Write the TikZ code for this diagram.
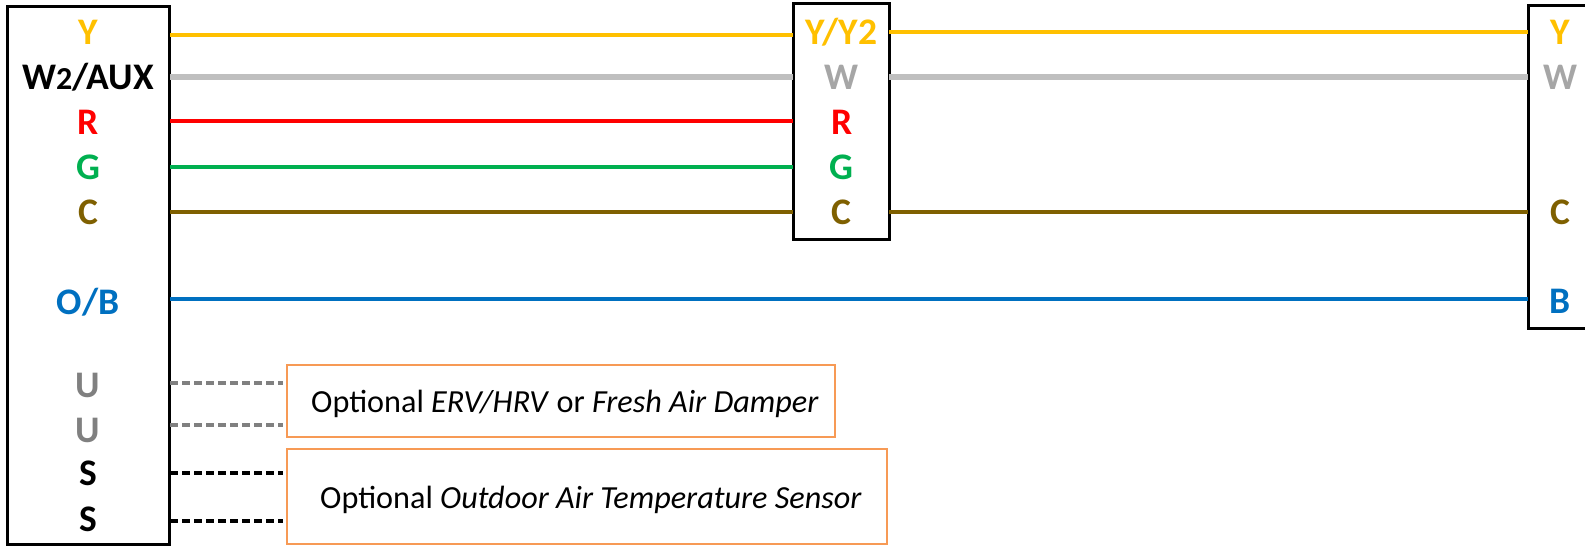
\documentclass[tikz,border=0pt]{standalone}
\usepackage{fontspec}
\setmainfont{Carlito}
\definecolor{cY}{HTML}{FFC000}
\definecolor{cW}{HTML}{BFBFBF}
\definecolor{cWt}{HTML}{A6A6A6}
\definecolor{cR}{HTML}{FF0000}
\definecolor{cG}{HTML}{00B050}
\definecolor{cC}{HTML}{7F6000}
\definecolor{cB}{HTML}{0070C0}
\definecolor{cU}{HTML}{808080}
\definecolor{cO}{HTML}{F79A55}
\tikzset{
  box/.style={draw=black,line width=3pt,fill=white,inner sep=0pt,outer sep=0pt,rectangle},
  optbox/.style={draw=cO,line width=2.4pt,fill=white,inner sep=0pt,outer sep=0pt,rectangle},
  lab/.style={anchor=base,inner sep=0pt,yshift=-1.5pt,xshift=0.6pt,font=\fontsize{37.5}{37.5}\selectfont\bfseries},
  opttext/.style={anchor=base west,inner sep=0pt,yshift=-1pt,font=\fontsize{32.2}{32.2}\selectfont},
  wire/.style={line width=4pt},
  thick wire/.style={line width=5.6pt},
  dash wire/.style={line width=3.6pt,dash pattern=on 7.5pt off 4.5pt},
}
\begin{document}
\begin{tikzpicture}[x=1pt,y=-1pt]
\useasboundingbox (0,0) rectangle (1585,546);
\clip (0,0) rectangle (1585,546);
% boxes
\node[box,minimum width=162pt,minimum height=538pt] (left) at (88,275) {};
\node[box,minimum width=96pt,minimum height=235.5pt] (mid) at (841,121.5) {};
\node[box,minimum width=80pt,minimum height=322.5pt] (right) at (1568,167) {};
\node[optbox,minimum width=548pt,minimum height=72pt] (opta) at (561,401) {};
\node[optbox,minimum width=600pt,minimum height=95pt] (optb) at (587,496.5) {};
% pins
\coordinate (lY) at (170,35);
\coordinate (lW) at (170,76.7);
\coordinate (lR) at (170,121);
\coordinate (lG) at (170,167);
\coordinate (lC) at (170,211.5);
\coordinate (lB) at (170,299);
\coordinate (lU1) at (170,382.7);
\coordinate (lU2) at (170,424.7);
\coordinate (lS1) at (170,472.7);
\coordinate (lS2) at (170,521);
\coordinate (mY) at (793,35);
\coordinate (mW) at (793,76.7);
\coordinate (mR) at (793,121);
\coordinate (mG) at (793,167);
\coordinate (mC) at (793,211.5);
\coordinate (nY) at (889,32);
\coordinate (nW) at (889,76.7);
\coordinate (nC) at (889,211.5);
\coordinate (rY) at (1528,32);
\coordinate (rW) at (1528,76.7);
\coordinate (rC) at (1528,211.5);
\coordinate (rB) at (1528,299);
\coordinate (aU1) at (283,382.7);
\coordinate (aU2) at (283,424.7);
\coordinate (bS1) at (283,472.7);
\coordinate (bS2) at (283,521);
% wires
\draw[wire,cY] (lY) -- (mY);
\draw[thick wire,cW] (lW) -- (mW);
\draw[wire,cR] (lR) -- (mR);
\draw[wire,cG] (lG) -- (mG);
\draw[wire,cC] (lC) -- (mC);
\draw[wire,cB] (lB) -- (rB);
\draw[wire,cY] (nY) -- (rY);
\draw[thick wire,cW] (nW) -- (rW);
\draw[wire,cC] (nC) -- (rC);
\draw[dash wire,cU] (lU1) -- (aU1);
\draw[dash wire,cU] (lU2) -- (aU2);
\draw[dash wire,black] (lS1) -- (bS1);
\draw[dash wire,black] (lS2) -- (bS2);
% left labels
\node[lab,text=cY] (tlY) at (87.5,43.3) {Y};
\node[lab,text=black] (tlW) at (87.5,88) {W{\fontsize{32}{32}\selectfont 2}/AUX};
\node[lab,text=cR] (tlR) at (87.5,133) {R};
\node[lab,text=cG] (tlG) at (87.5,177.7) {G};
\node[lab,text=cC] (tlC) at (87.5,222.7) {C};
\node[lab,text=cB] (tlB) at (87.5,312.5) {O/B};
\node[lab,text=cU] (tlU1) at (87.5,396) {U};
\node[lab,text=cU] (tlU2) at (87.5,441) {U};
\node[lab,text=black] (tlS1) at (87.5,484) {S};
\node[lab,text=black] (tlS2) at (87.5,530) {S};
% middle labels
\node[lab,text=cY] (tmY) at (841,42.7) {Y/Y2};
\node[lab,text=cWt] (tmW) at (841,88) {W};
\node[lab,text=cR] (tmR) at (841,132.7) {R};
\node[lab,text=cG] (tmG) at (841,178) {G};
\node[lab,text=cC] (tmC) at (841,222.7) {C};
% right labels
\node[lab,text=cY] (trY) at (1559.7,43) {Y};
\node[lab,text=cWt] (trW) at (1559.7,88) {W};
\node[lab,text=cC] (trC) at (1559.7,223) {C};
\node[lab,text=cB] (trB) at (1559.7,312) {B};
% optional labels
\node[opttext] (ta) at (311,411) {Optional \textit{ERV/HRV} or \textit{Fresh Air Damper}};
\node[opttext] (tb) at (320,507) {Optional \textit{Outdoor Air Temperature Sensor}};
\end{tikzpicture}
\end{document}
